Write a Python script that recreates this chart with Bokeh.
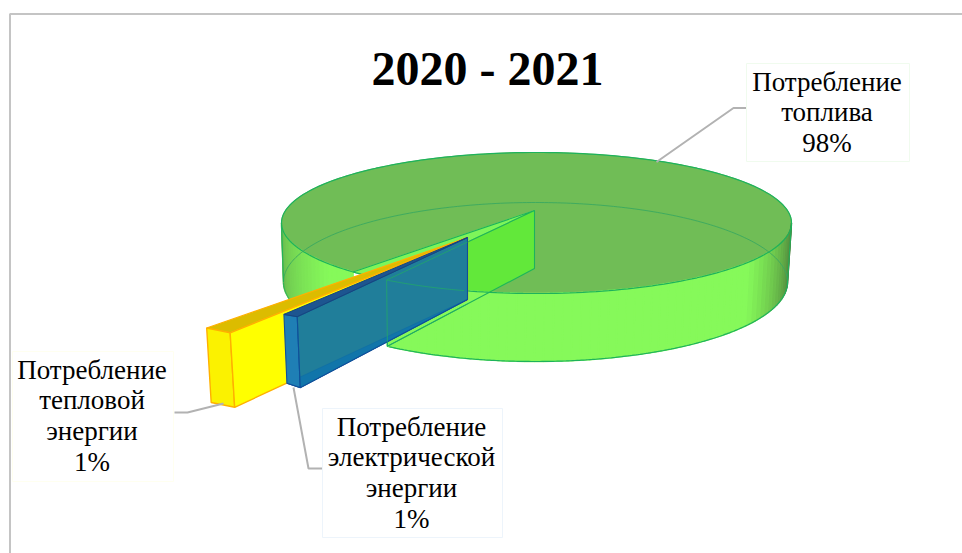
import math
from bokeh.plotting import figure
from bokeh.models import Range1d
from bokeh.core.properties import value
from bokeh.embed import file_html
from bokeh.resources import INLINE

# ---- data
title = "2020 - 2021"
shares = [98, 1, 1]
label_lines = [["Потребление", "топлива"],
               ["Потребление", "тепловой", "энергии"],
               ["Потребление", "электрической", "энергии"]]

# ---- layout (screen-pixel space)
W, H = 962, 553
SERIF = value("Liberation Serif")
TOP_C, TOP_A, TOP_B = (536, 222.5), 255, 70.5
BOT_C, BOT_A, BOT_B = (535, 281.5), 252, 79.5
TIP = (534, 210)
TIP_DEPTH = 58
GAP_CENTER = 131.0
STRETCH = 1.39
K = 0.276

p = figure(width=W, height=H, output_backend="svg", toolbar_location=None,
           x_range=Range1d(0, W), y_range=Range1d(H, 0),
           x_axis_type=None, y_axis_type=None, min_border=0,
           background_fill_color="white", border_fill_color="white")
p.outline_line_color = None
p.grid.visible = False


def ell(c, a, b, t):
    r = math.radians(t)
    return c[0] + a * math.cos(r), c[1] + b * math.sin(r)


def poly(pts, fill, line=None, lw=1.0, alpha=1.0):
    p.patch([q[0] for q in pts], [q[1] for q in pts], fill_color=fill, fill_alpha=alpha,
            line_color=line if line else fill, line_width=lw, line_alpha=1.0 if line else alpha)


def path(pts, color, lw=1.0, alpha=1.0):
    p.line([q[0] for q in pts], [q[1] for q in pts], line_color=color, line_width=lw, line_alpha=alpha)


def mix(c1, c2, f):
    f = max(0.0, min(1.0, f))
    a = [int(c1[i:i + 2], 16) for i in (1, 3, 5)]
    b = [int(c2[i:i + 2], 16) for i in (1, 3, 5)]
    return "#%02x%02x%02x" % tuple(round(a[i] + (b[i] - a[i]) * f) for i in range(3))


# chart frame
path([(9.5, H), (9.5, 13.5), (W, 13.5)], "#c4c4c4", 2)

# main slice: cut angles from its share
gap = (100 - shares[0]) * 3.6 * STRETCH
CUT_A, CUT_B = GAP_CENTER - gap / 2, GAP_CENTER + gap / 2
EDGE = "#1eb25c"
BRIGHT = "#86f95a"

# top surface
arc = [ell(TOP_C, TOP_A, TOP_B, CUT_A - i * (360 - gap) / 240) for i in range(241)]
poly([TIP] + arc, "#70bd56")
gap_arc = [ell(TOP_C, TOP_A, TOP_B, CUT_B - i * gap / 12) for i in range(13)]
poly([TIP] + gap_arc, "#7df55a")

# inner face of the cut
a_top = ell(TOP_C, TOP_A, TOP_B, CUT_A)
a_bot = ell(BOT_C, BOT_A, BOT_B, CUT_A)
tip_bot = (TIP[0], TIP[1] + TIP_DEPTH)
poly([TIP, a_top, a_bot, tip_bot], "#62e83a")


def side_color(t):
    if t < 90:
        return mix("#4a7a3a", BRIGHT, (t - 2) / 32)
    return mix(BRIGHT, "#68b84e", (t - 145) / 35)


def side(t0, t1, n):
    for i in range(n):
        s0 = t0 + (t1 - t0) * i / n
        s1 = t0 + (t1 - t0) * (i + 1) / n
        poly([ell(TOP_C, TOP_A, TOP_B, s0), ell(TOP_C, TOP_A, TOP_B, s1),
              ell(BOT_C, BOT_A, BOT_B, s1), ell(BOT_C, BOT_A, BOT_B, s0)],
             side_color((s0 + s1) / 2), lw=1.5)


side(0, CUT_A, 60)
side(CUT_B, 180, 24)

# edges
path([ell(TOP_C, TOP_A, TOP_B, i * 1.5) for i in range(241)], EDGE, 1.2)
path([ell(BOT_C, BOT_A, BOT_B, 180 + i * 1.0) for i in range(181)], "#3aa860", 1.0, 0.9)
path([ell(BOT_C, BOT_A, BOT_B, i * 0.5) for i in range(int(CUT_A / 0.5) + 1)] , EDGE, 1.2)
path([ell(BOT_C, BOT_A, BOT_B, CUT_B + i * 0.5) for i in range(int((180 - CUT_B) / 0.5) + 1)], EDGE, 1.0)
path([ell(TOP_C, TOP_A, TOP_B, 0), ell(BOT_C, BOT_A, BOT_B, 0)], EDGE, 1.0)
path([ell(TOP_C, TOP_A, TOP_B, 180), ell(BOT_C, BOT_A, BOT_B, 180)], EDGE, 1.0)
path([ell(TOP_C, TOP_A, TOP_B, CUT_B), TIP, a_top, a_bot, tip_bot, TIP], EDGE, 1.1)

# exploded slabs
S_TIP = (467, 237)
S_TIP_DEPTH = 62


def slab(share, center, spread, radius, off):
    half = share * 3.6 / 2 * spread
    corners = []
    for th in (center + half, center - half):
        r = math.radians(th)
        corners.append((S_TIP[0] + radius * math.cos(r), S_TIP[1] + radius * K * math.sin(r)))
    o1, o2 = corners
    b1 = (o1[0] + off[0], o1[1] + off[1])
    b2 = (o2[0] + off[0], o2[1] + off[1] + off[2])
    tb = (S_TIP[0], S_TIP[1] + S_TIP_DEPTH)
    return o1, o2, b1, b2, tb


# heat
o1, o2, b1, b2, tb = slab(shares[1], 126.5, 1.11, 419, (4.5, 74.5, 0))
poly([o1, o2, S_TIP], "#dcbc00", "#ffb000", 1.2)
poly([o1, o2, b2, b1], "#fbf200", "#ffb000", 1.4)
poly([o2, S_TIP, tb, b2], "#ffff00", "#ffb000", 1.4)

# electricity
o1, o2, b1, b2, tb = slab(shares[2], 122.05, 0.75, 333.5, (3, 69, 2))
poly([b1, b2, tb], "#2a86d8", "#0f4f9a", 1.0)
poly([o1, o2, b2, b1], "#1f7fb5", "#0f4f9a", 1.1)
poly([o2, S_TIP, tb, b2], "#0f74a6", "#0f4f9a", 1.1, 0.93)
poly([o1, o2, S_TIP], "#1d5590", "#17457f", 1.0)

# green cut-face lines visible through the slab
path([(a_top[0], a_top[1]), a_bot], "#21a86a", 1.0, 0.8)
path([a_top, (S_TIP[0], TIP[1] + (a_top[1] - TIP[1]) * (TIP[0] - S_TIP[0]) / (TIP[0] - a_top[0]))], "#21a86a", 1.0, 0.8)
path([a_bot, (S_TIP[0], tip_bot[1] + (a_bot[1] - tip_bot[1]) * (TIP[0] - S_TIP[0]) / (TIP[0] - a_bot[0]))], "#21a86a", 1.0, 0.8)
path([ell(TOP_C, TOP_A, TOP_B, CUT_A - i * 0.5) for i in range(40)], "#21a86a", 1.0, 0.8)

# leaders
LEAD = "#b2b2b2"
path([(656, 161.5), (733, 107.5), (746, 107.5)], LEAD, 2)
path([(174, 412), (187, 412), (223, 403)], LEAD, 2)
path([(293, 387), (308, 468), (322, 468)], LEAD, 2)

# label boxes
boxes = [(746, 63, 909, 161, "#f0fbee"), (12, 351, 173, 481, "#fffff0"), (322, 408, 502, 537, "#edf4fb")]
for (x0, y0, x1, y1, col) in boxes:
    poly([(x0, y0), (x1, y0), (x1, y1), (x0, y1)], "#ffffff", col, 1)

LINE_H = 30.7
for lines, sh, (x0, y0, x1, y1, _) in zip(label_lines, shares, boxes):
    rows = lines + [f"{sh}%"]
    cx = (x0 + x1) / 2 - 1
    for i, row in enumerate(rows):
        p.text([cx], [y0 + 18 + i * LINE_H], text=[row], text_font=SERIF, text_font_size="27px",
               text_color="#000000", text_align="center", text_baseline="alphabetic")

p.text([487], [68], text=[title], text_font=SERIF, text_font_size="48px", text_font_style="bold",
       text_color="#000000", text_align="center", text_baseline="alphabetic")

open("out.html", "w").write(file_html(p, INLINE))
